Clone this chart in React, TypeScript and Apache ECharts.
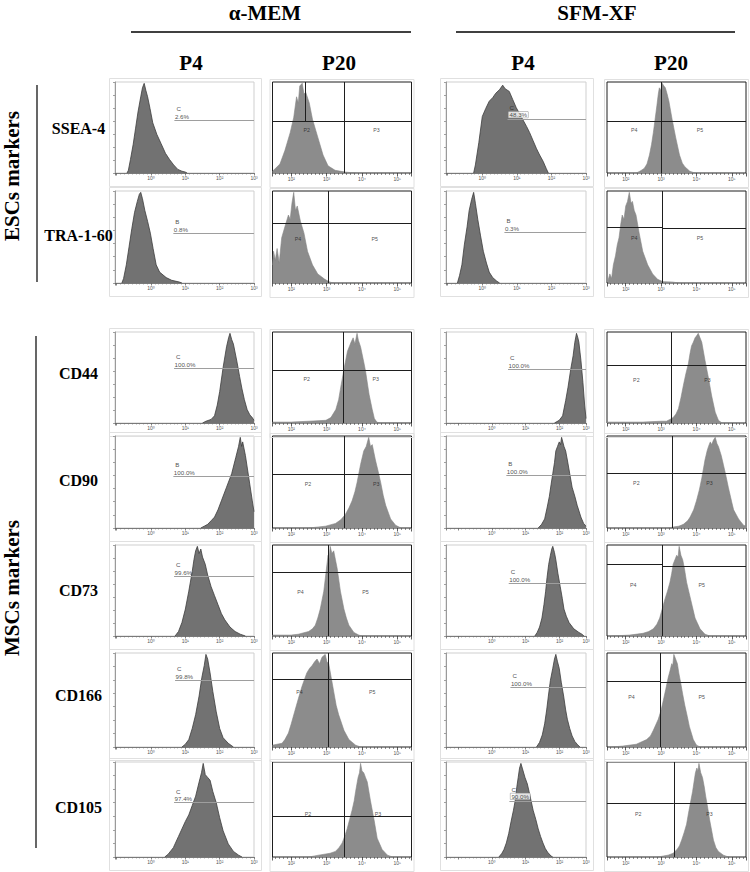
import React, { useEffect, useRef } from 'react';
import * as echarts from 'echarts';

// ---------- labels ----------
const MEDIA = ['α-MEM', 'SFM-XF'];
const PASSAGES = ['P4', 'P20', 'P4', 'P20'];
const MARKERS = ['SSEA-4', 'TRA-1-60', 'CD44', 'CD90', 'CD73', 'CD166', 'CD105'];
const GROUPS = ['ESCs markers', 'MSCs markers'];

// ---------- histograms: [log10 intensity, relative count] ----------
const AP4_SSEA4 = [[-0.7,0],[-0.66,0.03],[-0.6,0.15],[-0.52,0.32],[-0.45,0.5],[-0.38,0.68],[-0.3,0.85],[-0.25,0.95],[-0.2,1.0],[-0.15,0.92],[-0.1,0.85],[-0.03,0.72],[0.05,0.56],[0.17,0.43],[0.29,0.33],[0.42,0.22],[0.54,0.15],[0.66,0.09],[0.78,0.04],[0.9,0.02],[1.0,0.01],[1.05,0]];
const AP4_TRA = [[-0.85,0],[-0.8,0.05],[-0.72,0.2],[-0.64,0.4],[-0.56,0.6],[-0.48,0.78],[-0.4,0.9],[-0.34,0.98],[-0.3,1.0],[-0.25,0.93],[-0.18,0.8],[-0.1,0.68],[-0.02,0.55],[0.06,0.38],[0.15,0.2],[0.25,0.12],[0.44,0.06],[0.6,0.03],[0.83,0.01],[0.9,0]];
const AP20_SSEA4 = [[1.47,0.02],[1.55,0.05],[1.68,0.1],[1.82,0.25],[1.97,0.45],[2.07,0.62],[2.15,0.85],[2.2,0.78],[2.24,0.97],[2.31,1.0],[2.36,0.88],[2.41,0.9],[2.51,0.78],[2.6,0.6],[2.75,0.4],[2.9,0.2],[3.04,0.08],[3.24,0.03],[3.53,0.01],[3.82,0]];
const AP20_TRA = [[1.47,0.2],[1.5,0.35],[1.55,0.25],[1.6,0.38],[1.66,0.22],[1.73,0.5],[1.82,0.62],[1.92,0.75],[1.97,0.7],[2.02,0.88],[2.07,1.0],[2.12,0.8],[2.17,0.85],[2.26,0.68],[2.36,0.55],[2.46,0.35],[2.6,0.2],[2.75,0.1],[2.95,0.04],[3.09,0.01],[3.2,0]];
const SP4_SSEA4 = [[-0.25,0],[-0.2,0.09],[-0.1,0.34],[0.0,0.63],[0.1,0.72],[0.2,0.8],[0.3,0.84],[0.39,0.89],[0.5,0.93],[0.59,0.98],[0.66,0.94],[0.78,0.91],[0.88,0.82],[0.98,0.73],[1.08,0.66],[1.18,0.59],[1.28,0.52],[1.37,0.45],[1.47,0.36],[1.57,0.27],[1.66,0.2],[1.76,0.13],[1.85,0.05],[1.91,0]];
const SP4_TRA = [[-0.72,0],[-0.66,0.08],[-0.59,0.2],[-0.52,0.42],[-0.44,0.62],[-0.38,0.8],[-0.31,0.92],[-0.25,1.0],[-0.2,0.88],[-0.13,0.7],[-0.05,0.52],[0.03,0.35],[0.12,0.22],[0.2,0.12],[0.3,0.06],[0.42,0.02],[0.5,0]];
const SP20_SSEA4 = [[2.3,0],[2.4,0.02],[2.52,0.05],[2.6,0.1],[2.67,0.2],[2.73,0.32],[2.78,0.45],[2.83,0.6],[2.88,0.75],[2.92,0.88],[2.95,0.95],[2.99,0.92],[3.03,1.0],[3.08,0.97],[3.12,0.95],[3.17,0.88],[3.22,0.8],[3.31,0.6],[3.41,0.4],[3.52,0.2],[3.6,0.11],[3.67,0.07],[3.81,0.02],[3.95,0]];
const SP20_TRA = [[1.5,0.03],[1.55,0.1],[1.6,0.05],[1.65,0.2],[1.71,0.3],[1.76,0.42],[1.81,0.5],[1.86,0.65],[1.9,0.75],[1.95,0.7],[2.0,0.85],[2.05,0.9],[2.1,1.0],[2.15,0.88],[2.19,0.9],[2.24,0.8],[2.29,0.75],[2.38,0.55],[2.48,0.35],[2.62,0.2],[2.76,0.1],[2.9,0.04],[3.05,0.015],[3.33,0.01],[3.5,0]];

const AP4_CD44 = [[1.5,0],[1.6,0.02],[1.75,0.04],[1.85,0.08],[1.93,0.2],[2.0,0.35],[2.1,0.62],[2.2,0.85],[2.26,0.95],[2.3,1.0],[2.35,0.93],[2.4,0.88],[2.5,0.69],[2.58,0.52],[2.65,0.38],[2.72,0.26],[2.8,0.15],[2.88,0.09],[2.95,0.06],[3.0,0.03]];
const AP4_CD90 = [[1.45,0],[1.55,0.02],[1.65,0.04],[1.75,0.08],[1.85,0.12],[1.95,0.2],[2.05,0.3],[2.2,0.45],[2.35,0.6],[2.47,0.78],[2.55,0.9],[2.6,1.0],[2.64,0.9],[2.67,0.95],[2.75,0.8],[2.85,0.55],[2.95,0.3],[3.0,0.18]];
const AP4_CD73 = [[0.7,0],[0.8,0.05],[0.9,0.15],[1.0,0.3],[1.1,0.5],[1.2,0.72],[1.25,0.85],[1.3,0.95],[1.35,1.0],[1.4,0.92],[1.45,0.97],[1.5,0.88],[1.58,0.8],[1.65,0.68],[1.75,0.55],[1.85,0.45],[1.95,0.35],[2.05,0.25],[2.15,0.18],[2.3,0.1],[2.45,0.05],[2.6,0.02],[2.75,0]];
const AP4_CD166 = [[0.9,0],[1.0,0.03],[1.1,0.08],[1.2,0.2],[1.3,0.35],[1.4,0.55],[1.48,0.75],[1.55,0.88],[1.6,1.0],[1.65,0.95],[1.72,0.8],[1.8,0.6],[1.9,0.38],[2.0,0.2],[2.1,0.1],[2.25,0.04],[2.4,0]];
const AP4_CD105 = [[0.4,0],[0.5,0.03],[0.65,0.1],[0.8,0.22],[0.9,0.3],[1.0,0.38],[1.1,0.45],[1.2,0.55],[1.3,0.65],[1.4,0.8],[1.47,0.9],[1.52,1.0],[1.58,0.88],[1.65,0.85],[1.72,0.82],[1.8,0.7],[1.9,0.58],[2.0,0.42],[2.1,0.28],[2.25,0.14],[2.4,0.06],[2.55,0.02],[2.65,0]];

const AP20_CD44 = [[1.47,0.01],[2.0,0.01],[2.5,0.02],[2.98,0.03],[3.12,0.06],[3.26,0.15],[3.34,0.26],[3.4,0.4],[3.5,0.62],[3.59,0.8],[3.65,0.86],[3.69,0.9],[3.75,0.95],[3.8,0.88],[3.86,1.0],[3.9,0.92],[3.96,0.85],[4.05,0.68],[4.1,0.58],[4.2,0.32],[4.29,0.15],[4.35,0.05],[4.42,0.01],[4.5,0]];
const AP20_CD90 = [[2.5,0],[2.97,0.02],[3.25,0.05],[3.4,0.09],[3.53,0.15],[3.63,0.22],[3.72,0.3],[3.8,0.4],[3.86,0.5],[3.96,0.7],[4.05,0.85],[4.12,0.9],[4.19,1.0],[4.24,0.9],[4.29,0.92],[4.38,0.75],[4.46,0.62],[4.53,0.5],[4.6,0.36],[4.67,0.25],[4.81,0.1],[4.95,0.03],[5.05,0.01],[5.1,0]];
const AP20_CD73 = [[1.47,0.01],[2.0,0.01],[2.2,0.02],[2.49,0.05],[2.6,0.08],[2.68,0.12],[2.75,0.2],[2.82,0.3],[2.87,0.4],[2.92,0.5],[2.98,0.7],[3.04,0.9],[3.07,0.85],[3.1,1.0],[3.15,0.92],[3.2,0.95],[3.25,0.85],[3.3,0.75],[3.39,0.5],[3.49,0.3],[3.56,0.2],[3.63,0.12],[3.77,0.04],[3.91,0.01],[4.0,0]];
const AP20_CD166 = [[1.47,0.02],[1.6,0.03],[1.74,0.04],[1.82,0.08],[1.92,0.15],[2.0,0.25],[2.11,0.4],[2.2,0.52],[2.3,0.65],[2.44,0.8],[2.52,0.85],[2.59,0.88],[2.66,0.92],[2.73,0.95],[2.8,0.9],[2.87,0.97],[2.96,1.0],[3.01,0.92],[3.06,0.9],[3.13,0.75],[3.2,0.6],[3.27,0.45],[3.34,0.35],[3.49,0.18],[3.63,0.08],[3.82,0.02],[3.96,0]];
const AP20_CD105 = [[2.5,0],[2.78,0.02],[3.1,0.04],[3.25,0.06],[3.35,0.1],[3.44,0.15],[3.51,0.22],[3.58,0.3],[3.65,0.4],[3.72,0.5],[3.78,0.6],[3.82,0.7],[3.89,0.85],[3.93,0.9],[3.96,1.0],[4.0,0.92],[4.05,0.9],[4.1,0.85],[4.15,0.8],[4.24,0.6],[4.34,0.4],[4.43,0.2],[4.57,0.08],[4.72,0.02],[4.86,0]];

const SP4_CD44 = [[1.85,0],[1.99,0.03],[2.09,0.08],[2.18,0.25],[2.25,0.4],[2.33,0.6],[2.4,0.75],[2.45,0.9],[2.5,1.0],[2.54,0.95],[2.57,0.9],[2.63,0.7],[2.69,0.45],[2.74,0.2],[2.78,0.05]];
const SP4_CD90 = [[1.37,0],[1.47,0.04],[1.56,0.1],[1.63,0.22],[1.7,0.35],[1.75,0.48],[1.8,0.6],[1.85,0.72],[1.89,0.85],[1.94,0.9],[1.99,0.95],[2.03,0.92],[2.06,1.0],[2.13,0.9],[2.18,0.85],[2.23,0.75],[2.3,0.6],[2.37,0.45],[2.45,0.35],[2.52,0.25],[2.63,0.12],[2.71,0.05],[2.78,0.02]];
const SP4_CD73 = [[1.27,0],[1.34,0.04],[1.41,0.1],[1.48,0.2],[1.54,0.35],[1.59,0.5],[1.63,0.65],[1.68,0.8],[1.73,0.9],[1.77,0.97],[1.8,1.0],[1.85,0.93],[1.89,0.85],[1.95,0.7],[2.02,0.55],[2.08,0.42],[2.13,0.3],[2.2,0.22],[2.28,0.15],[2.42,0.08],[2.57,0.04],[2.66,0.02],[2.72,0]];
const SP4_CD166 = [[1.32,0],[1.41,0.05],[1.49,0.13],[1.56,0.25],[1.62,0.4],[1.67,0.55],[1.73,0.72],[1.8,0.85],[1.85,0.95],[1.89,1.0],[1.94,0.92],[1.99,0.85],[2.05,0.7],[2.12,0.55],[2.18,0.4],[2.23,0.3],[2.3,0.2],[2.37,0.12],[2.45,0.06],[2.52,0.03],[2.6,0]];
const SP4_CD105 = [[0.21,0],[0.3,0.04],[0.36,0.08],[0.43,0.15],[0.5,0.25],[0.57,0.38],[0.64,0.5],[0.7,0.62],[0.74,0.75],[0.78,0.85],[0.82,0.95],[0.86,1.0],[0.9,0.95],[0.98,0.85],[1.05,0.78],[1.1,0.7],[1.16,0.6],[1.22,0.5],[1.3,0.4],[1.37,0.3],[1.44,0.22],[1.51,0.15],[1.58,0.09],[1.65,0.05],[1.75,0.01],[1.8,0]];

const SP20_CD44 = [[1.47,0.01],[2.49,0.01],[3.0,0.02],[3.15,0.02],[3.25,0.04],[3.34,0.06],[3.42,0.1],[3.49,0.16],[3.56,0.28],[3.63,0.42],[3.7,0.55],[3.77,0.66],[3.82,0.78],[3.86,0.86],[3.91,0.9],[3.96,0.95],[4.0,0.97],[4.05,1.0],[4.1,0.95],[4.15,0.9],[4.24,0.7],[4.34,0.5],[4.43,0.3],[4.53,0.12],[4.62,0.03],[4.72,0]];
const SP20_CD90 = [[3.2,0],[3.34,0.01],[3.5,0.02],[3.63,0.04],[3.75,0.08],[3.82,0.12],[3.92,0.2],[4.0,0.3],[4.08,0.42],[4.15,0.55],[4.24,0.75],[4.3,0.85],[4.34,0.9],[4.39,0.95],[4.43,0.92],[4.48,0.97],[4.53,1.0],[4.58,0.93],[4.62,0.9],[4.7,0.8],[4.76,0.7],[4.83,0.58],[4.9,0.45],[5.0,0.28],[5.05,0.2],[5.19,0.1],[5.33,0.03],[5.4,0.02]];
const SP20_CD73 = [[1.6,0],[2.11,0.01],[2.49,0.03],[2.65,0.05],[2.78,0.08],[2.88,0.13],[2.96,0.2],[3.03,0.3],[3.1,0.4],[3.18,0.5],[3.25,0.6],[3.3,0.7],[3.34,0.8],[3.39,0.85],[3.44,0.9],[3.48,0.88],[3.51,1.0],[3.56,0.9],[3.61,0.85],[3.66,0.75],[3.72,0.6],[3.78,0.5],[3.84,0.4],[3.9,0.3],[3.96,0.2],[4.1,0.08],[4.24,0.02],[4.38,0]];
const SP20_CD166 = [[1.6,0],[1.92,0.01],[2.3,0.03],[2.59,0.08],[2.7,0.12],[2.78,0.18],[2.85,0.24],[2.92,0.3],[3.0,0.4],[3.06,0.5],[3.13,0.62],[3.2,0.75],[3.25,0.82],[3.3,0.9],[3.33,0.88],[3.36,1.0],[3.41,0.95],[3.46,0.9],[3.5,0.8],[3.55,0.7],[3.61,0.57],[3.67,0.45],[3.74,0.33],[3.8,0.22],[3.91,0.08],[4.0,0.02],[4.1,0]];
const SP20_CD105 = [[2.9,0],[3.06,0.01],[3.2,0.02],[3.34,0.04],[3.45,0.08],[3.52,0.12],[3.58,0.18],[3.65,0.26],[3.72,0.35],[3.78,0.48],[3.84,0.6],[3.89,0.7],[3.93,0.8],[3.97,0.9],[4.01,0.95],[4.04,0.92],[4.07,1.0],[4.12,0.9],[4.17,0.85],[4.22,0.75],[4.26,0.65],[4.32,0.52],[4.37,0.4],[4.43,0.28],[4.48,0.18],[4.55,0.1],[4.62,0.06],[4.76,0.02],[4.9,0]];

// ---------- P4 marker gates: [start log, level, letter, percent, boxed] ----------
const P4_GATES_AMEM = [[0.68,0.59,'C','2.6%',0],[0.65,0.55,'B','0.8%',0],[0.67,0.61,'C','100.0%',0],[0.65,0.57,'B','100.0%',0],[0.67,0.67,'C','99.6%',0],[0.7,0.72,'C','99.8%',0],[0.67,0.58,'C','97.4%',0]];
const P4_GATES_SFM = [[0.73,0.6,'C','48.3%',1],[0.64,0.56,'B','0.3%',0],[0.48,0.6,'C','100.0%',0],[0.43,0.58,'B','100.0%',0],[0.5,0.59,'C','100.0%',0],[0.55,0.65,'C','100.0%',0],[0.52,0.6,'C','90.0%',1]];
// ---------- P20 quadrant gates: [vertical, left level, right level, extra short line x or null] ----------
const P20_GATES_AMEM = [[3.51,0.58,0.58,2.41],[3.06,0.66,0.66,null],[3.47,0.59,0.59,null],[3.5,0.59,0.59,null],[3.04,0.71,0.71,null],[3.06,0.73,0.73,null],[3.51,0.44,0.44,null]];
const P20_GATES_SFM = [[3.0,0.58,0.58,null],[3.03,0.61,0.6,null],[3.3,0.64,0.64,null],[3.32,0.6,0.6,null],[3.04,0.8,0.78,null],[2.98,0.71,0.7,null],[3.36,0.57,0.57,null]];
// ---------- P20 region names: [left name, x, right name, x, level] ----------
const P20_NAMES_AMEM = [['P2',2.44,'P3',4.41,0.48],['P4',2.19,'P5',4.36,0.48],['P2',2.44,'P3',4.39,0.49],['P2',2.47,'P3',4.4,0.48],['P4',2.26,'P5',4.1,0.49],['P4',2.23,'P5',4.29,0.59],['P2',2.47,'P3',4.45,0.46]];
const P20_NAMES_SFM = [['P4',2.24,'P5',4.1,0.48],['P4',2.24,'P5',4.1,0.5],['P2',2.3,'P3',4.31,0.48],['P2',2.3,'P3',4.37,0.5],['P4',2.21,'P5',4.15,0.57],['P4',2.16,'P5',4.15,0.54],['P2',2.35,'P3',4.37,0.46]];

const HIST = [
  [AP4_SSEA4, AP20_SSEA4, SP4_SSEA4, SP20_SSEA4],
  [AP4_TRA, AP20_TRA, SP4_TRA, SP20_TRA],
  [AP4_CD44, AP20_CD44, SP4_CD44, SP20_CD44],
  [AP4_CD90, AP20_CD90, SP4_CD90, SP20_CD90],
  [AP4_CD73, AP20_CD73, SP4_CD73, SP20_CD73],
  [AP4_CD166, AP20_CD166, SP4_CD166, SP20_CD166],
  [AP4_CD105, AP20_CD105, SP4_CD105, SP20_CD105],
];

// ---------- layout ----------
const COL_LEFT = [115, 272.5, 446, 607];
const COL_W = [139, 139, 140, 139];
const ROW_TOP = [82, 191, 332, 436, 545, 653, 762];
const ROW_H = [91, 92, 91, 92, 91, 94, 95];
const LABEL_Y = [128, 235, 373, 480, 590, 695, 807];
const YMAX = 1.015;
// the axes show log10(intensity) shifted by this constant so that the drawn domain stays positive
const SHIFT = 2;

const SUP: Record<number, string> = { 0: '⁰', 1: '¹', 2: '²', 3: '³', 4: '⁴', 5: '⁵' };
const SMALL_FONT = 'Liberation Sans, DejaVu Sans, sans-serif';
const SERIF = 'Liberation Serif, Times New Roman, serif';

function rangeFor(r: number, c: number): [number, number] {
  if (c === 1 || c === 3) return [1.47, 5.4];
  if (c === 2 && r >= 2) return [-1.35, 2.78];
  return [-1.05, 3];
}

function buildOption() {
  const grid: any[] = [];
  const xAxis: any[] = [];
  const yAxis: any[] = [];
  const series: any[] = [];
  const graphic: any[] = [];
  const X = (v: number) => v + SHIFT;

  for (let r = 0; r < MARKERS.length; r++) {
    for (let c = 0; c < 4; c++) {
      const idx = r * 4 + c;
      const p20 = c === 1 || c === 3;
      const [mn, mx] = rangeFor(r, c);
      const left = COL_LEFT[c];
      const top = ROW_TOP[r];
      const w = COL_W[c];
      const h = ROW_H[r];
      const extendMax = c === 2 && r >= 2;

      // light outer frame of each cytometer panel
      graphic.push({
        type: 'rect', z: 0, silent: true,
        shape: p20 ? { x: left - 2.5, y: top - 2.5, width: w + 5, height: h + 17 } : { x: left - 5.5, y: top - 3.5, width: w + 13, height: h + 17 },
        style: { fill: 'none', stroke: '#e0e0e0', lineWidth: 1 },
      });

      grid.push({
        left, top, width: w, height: h, show: true,
        borderColor: p20 ? '#1e1e1e' : '#cfcfcf', borderWidth: 1, backgroundColor: 'transparent',
      });
      xAxis.push({
        gridIndex: idx, type: 'value', min: X(mn), max: X(mx), splitNumber: 4,
        axisLine: { show: !p20, onZero: false, lineStyle: { color: '#7a7a7a', width: 1 } },
        axisTick: { show: true, length: p20 ? 3.5 : 2.5, lineStyle: { color: p20 ? '#333' : '#666', width: 0.8 } },
        minorTick: { show: true, splitNumber: 9, length: p20 ? 2 : 1.5, lineStyle: { color: p20 ? '#444' : '#777', width: 0.6 } },
        splitLine: { show: false },
        axisLabel: {
          show: true, fontSize: 5, margin: p20 ? 3 : 2.5, color: '#555', fontFamily: SMALL_FONT,
          showMinLabel: true, showMaxLabel: true,
          formatter: (v: number) => {
            const e = v - SHIFT;
            const k = Math.round(e);
            if (Math.abs(e - k) < 1e-6) {
              if (p20 && k >= 2 && k <= 5) return '10' + SUP[k];
              if (!p20 && k >= 0 && k <= 3) return '10' + SUP[k];
              return '';
            }
            if (extendMax && Math.abs(e - mx) < 1e-6) return '10³';
            return '';
          },
        },
      });
      yAxis.push({
        gridIndex: idx, type: 'value', min: 0, max: YMAX, interval: 0.145,
        axisLine: { show: !p20, onZero: false, lineStyle: { color: '#9a9a9a', width: 1 } },
        axisTick: { show: !p20, length: 2, lineStyle: { color: '#8a8a8a', width: 0.8 } },
        axisLabel: { show: false },
        splitLine: { show: false },
      });

      const markData: any[] = [];
      const texts: any[] = [];
      if (p20) {
        const g = (c === 1 ? P20_GATES_AMEM : P20_GATES_SFM)[r] as any[];
        const n = (c === 1 ? P20_NAMES_AMEM : P20_NAMES_SFM)[r] as any[];
        markData.push([{ coord: [X(g[0]), 0] }, { coord: [X(g[0]), YMAX] }]);
        markData.push([{ coord: [X(mn), g[1]] }, { coord: [X(g[0]), g[1]] }]);
        markData.push([{ coord: [X(g[0]), g[2]] }, { coord: [X(mx), g[2]] }]);
        if (g[3] !== null) markData.push([{ coord: [X(g[3]), g[1]] }, { coord: [X(g[3]), YMAX] }]);
        texts.push({ value: [X(n[1]), n[4]], label: { formatter: n[0] } });
        texts.push({ value: [X(n[3]), n[4]], label: { formatter: n[2] } });
      } else {
        const g = (c === 0 ? P4_GATES_AMEM : P4_GATES_SFM)[r] as any[];
        markData.push([{ coord: [X(g[0]), g[1]] }, { coord: [X(mx), g[1]] }]);
        texts.push({ value: [X(g[0]), g[1]], label: { formatter: g[2], fontSize: 6.2, position: [2, -14.5], align: 'left', verticalAlign: 'top' } });
        texts.push({
          value: [X(g[0]), g[1]],
          label: g[4]
            ? { formatter: g[3], fontSize: 6.2, position: [1, -7.5], align: 'left', verticalAlign: 'top', backgroundColor: '#fff', borderColor: '#888', borderWidth: 0.5, padding: [0, 1] }
            : { formatter: g[3], fontSize: 6.2, position: [0.5, -6.8], align: 'left', verticalAlign: 'top' },
        });
      }

      series.push({
        type: 'line', xAxisIndex: idx, yAxisIndex: idx,
        data: (HIST[r][c] as number[][]).map((p) => [X(p[0]), p[1]]),
        symbol: 'none', smooth: false, silent: true,
        lineStyle: p20 ? { color: '#858585', width: 0.6 } : { color: '#3e3e3e', width: 0.8 },
        areaStyle: { color: p20 ? '#8c8c8c' : '#727272', opacity: 1 },
        markLine: {
          silent: true, symbol: ['none', 'none'], label: { show: false },
          lineStyle: { color: p20 ? '#1e1e1e' : '#9e9e9e', width: 1, type: 'solid' },
          emphasis: { disabled: true },
          data: markData,
        },
        z: 2,
      });
      series.push({
        type: 'scatter', xAxisIndex: idx, yAxisIndex: idx, symbolSize: 0, silent: true, z: 5,
        data: texts,
        label: {
          show: true, fontSize: 5.3, color: '#222', fontFamily: SMALL_FONT,
          position: [0, 0], align: 'center', verticalAlign: 'middle',
        },
      });
    }
  }

  // headers
  const headerFont = { fontFamily: SERIF, fontWeight: 'bold' as const, fill: '#000' };
  graphic.push({ type: 'text', x: 265, y: 13, style: { text: MEDIA[0], fontSize: 21, align: 'center', verticalAlign: 'middle', ...headerFont } });
  graphic.push({ type: 'text', x: 597, y: 13, style: { text: MEDIA[1], fontSize: 21, align: 'center', verticalAlign: 'middle', ...headerFont } });
  graphic.push({ type: 'line', shape: { x1: 131, y1: 32, x2: 411, y2: 32 }, style: { stroke: '#000', lineWidth: 1.5 } });
  graphic.push({ type: 'line', shape: { x1: 456, y1: 32, x2: 735, y2: 32 }, style: { stroke: '#000', lineWidth: 1.5 } });
  const pX = [191, 339, 523, 671];
  PASSAGES.forEach((p, i) => {
    graphic.push({ type: 'text', x: pX[i], y: 63, style: { text: p, fontSize: 21, align: 'center', verticalAlign: 'middle', ...headerFont } });
  });
  MARKERS.forEach((m, i) => {
    graphic.push({ type: 'text', x: 78.5, y: LABEL_Y[i], style: { text: m, fontSize: 16, align: 'center', verticalAlign: 'middle', ...headerFont } });
  });
  graphic.push({ type: 'text', x: 12, y: 176, rotation: Math.PI / 2, style: { text: GROUPS[0], fontSize: 21, align: 'center', verticalAlign: 'middle', ...headerFont } });
  graphic.push({ type: 'text', x: 12, y: 588, rotation: Math.PI / 2, style: { text: GROUPS[1], fontSize: 21, align: 'center', verticalAlign: 'middle', ...headerFont } });
  graphic.push({ type: 'line', shape: { x1: 37, y1: 85, x2: 37, y2: 282 }, style: { stroke: '#000', lineWidth: 1.2 } });
  graphic.push({ type: 'line', shape: { x1: 36, y1: 336, x2: 36, y2: 848 }, style: { stroke: '#000', lineWidth: 1.2 } });

  return {
    animation: false,
    backgroundColor: '#ffffff',
    grid, xAxis, yAxis, series, graphic,
  };
}

export default function App() {
  const ref = useRef<HTMLDivElement>(null);
  useEffect(() => {
    if (!ref.current) return;
    const chart = echarts.init(ref.current, undefined, { renderer: 'svg' });
    chart.setOption(buildOption() as any);
    return () => chart.dispose();
  }, []);
  return <div ref={ref} style={{ position: 'fixed', left: 0, top: 0, width: 750, height: 872, background: '#fff' }} />;
}
